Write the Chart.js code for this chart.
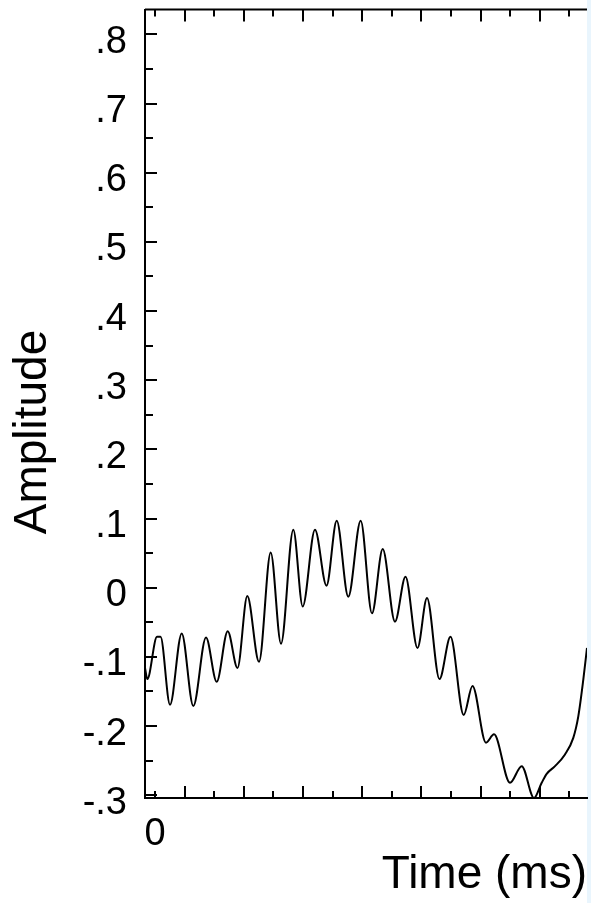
<!DOCTYPE html>
<html>
  <head>
    <meta charset="utf-8">
    <title>Amplitude vs Time</title>
    <script src="https://cdn.jsdelivr.net/npm/chart.js@4.4.1/dist/chart.umd.min.js"></script>
    <style>
      body {
        margin: 0;
        background-color: white;
      }
    </style>
  </head>
  <body>
    <canvas id="canvas" width="591" height="903"></canvas>

    <script>
      // time axis (one unit per tick) and amplitude
      var timeValues = [-0.338, -0.26, 0.068, 0.186, 0.507, 0.902, 1.294, 1.723, 2.084, 2.456,
        2.787, 3.118, 3.514, 3.909, 4.257, 4.672, 4.99, 5.405, 5.794, 6.139,
        6.53, 6.949, 7.331, 7.693, 8.108, 8.463, 8.868, 9.189, 9.611, 9.983,
        10.429, 10.726, 11.182, 11.453, 11.993, 12.389, 12.804, 13.064, 13.233, 13.514,
        13.851, 14.132, 14.301, 14.47, 14.595];
      var ampValues = [-0.116, -0.132, -0.071, -0.071, -0.169, -0.066, -0.171, -0.072, -0.136, -0.063,
        -0.116, -0.012, -0.107, 0.051, -0.081, 0.084, -0.027, 0.084, 0.003, 0.097,
        -0.013, 0.097, -0.037, 0.056, -0.049, 0.016, -0.087, -0.015, -0.132, -0.071,
        -0.184, -0.142, -0.224, -0.212, -0.282, -0.258, -0.304, -0.282, -0.269, -0.258,
        -0.241, -0.217, -0.186, -0.133, -0.087];

      var yTickValues = [-0.3, -0.2, -0.1, 0, 0.1, 0.2, 0.3, 0.4, 0.5, 0.6, 0.7, 0.8];
      var yTickLabels = ['-.3', '-.2', '-.1', '0', '.1', '.2', '.3', '.4', '.5', '.6', '.7', '.8'];
      var xTickValues = [0, 1, 2, 3, 4, 5, 6, 7, 8, 9, 10, 11, 12, 13, 14];
      var xTickLabels = ['0', '', '', '', '', '', '', '', '', '', '', '', '', '', ''];

      var fontName = "'Liberation Sans', Arial, Helvetica, sans-serif";

      var points = [];
      for (var i = 0; i < timeValues.length; i++) {
        points.push({x: timeValues[i], y: ampValues[i]});
      }

      var frame = {
        id: 'frame',
        beforeDraw: function(chart) {
          var c = chart.ctx;
          var a = chart.chartArea;
          c.save();
          c.fillStyle = 'white';
          c.fillRect(0, 0, chart.width, chart.height);
          c.fillStyle = '#e9f5fd';
          c.fillRect(a.right, 0, chart.width - a.right, chart.height);
          c.restore();
        },
        afterDraw: function(chart) {
          var c = chart.ctx;
          var a = chart.chartArea;
          var xs = chart.scales.x;
          var ys = chart.scales.y;
          c.save();
          c.strokeStyle = 'black';
          c.lineWidth = 2;
          c.beginPath();
          c.moveTo(a.left, a.top);
          c.lineTo(a.right, a.top);
          for (var i = 0; i < xTickValues.length; i++) {
            var px = Math.round(xs.getPixelForValue(xTickValues[i]));
            var len = (i % 2) ? 12 : 7;
            c.moveTo(px, a.top);
            c.lineTo(px, a.top + len);
            c.moveTo(px, a.bottom);
            c.lineTo(px, a.bottom - len);
          }
          // major ticks on the labels, minor ticks halfway
          for (var j = 0; j < yTickValues.length; j++) {
            var py = Math.round(ys.getPixelForValue(yTickValues[j]));
            c.moveTo(a.left, py);
            c.lineTo(a.left + 12, py);
            if (j < yTickValues.length - 1) {
              var pm = Math.round(ys.getPixelForValue(yTickValues[j] + 0.05));
              c.moveTo(a.left, pm);
              c.lineTo(a.left + 8, pm);
            }
          }
          var pt = Math.round(ys.getPixelForValue(0.8 + 0.05));
          if (pt > a.top) {
            c.moveTo(a.left, pt);
            c.lineTo(a.left + 8, pt);
          }
          c.stroke();

          c.translate(33, 432);
          c.rotate(-Math.PI / 2);
          c.fillStyle = 'black';
          c.font = '46px ' + fontName;
          c.textAlign = 'center';
          c.textBaseline = 'middle';
          c.fillText('Amplitude', 0, 0);
          c.restore();
        }
      };

      var ctx = document.getElementById('canvas').getContext('2d');
      var myChart = new Chart(ctx, {
        type: 'line',
        data: {
          datasets: [{
            data: points,
            borderColor: 'black',
            borderWidth: 2,
            pointRadius: 0,
            fill: false,
            cubicInterpolationMode: 'monotone'
          }]
        },
        options: {
          responsive: false,
          animation: false,
          devicePixelRatio: 1,
          layout: {
            padding: {top: 9.5, right: 4, left: 0, bottom: 0}
          },
          plugins: {
            legend: {display: false},
            tooltip: {enabled: false}
          },
          scales: {
            x: {
              type: 'linear',
              min: -0.338,
              max: 14.595,
              afterFit: function(s) {
                s.height = 105;
                s.paddingLeft = 0;
                s.paddingRight = 0;
              },
              afterBuildTicks: function(s) {
                s.ticks = xTickValues.map(function(v) { return {value: v}; });
              },
              grid: {display: false, drawTicks: false},
              border: {display: true, color: 'black', width: 2},
              ticks: {
                autoSkip: false,
                maxRotation: 0,
                padding: 14,
                color: 'black',
                font: {family: fontName, size: 38},
                callback: function(value, index) { return xTickLabels[index]; }
              },
              title: {
                display: true,
                text: 'Time (ms)',
                align: 'end',
                color: 'black',
                font: {family: fontName, size: 46},
                padding: {top: 0, bottom: 0}
              }
            },
            y: {
              min: -0.304,
              max: 0.836,
              afterFit: function(s) {
                s.width = 145;
                s.paddingTop = 0;
                s.paddingBottom = 0;
              },
              afterBuildTicks: function(s) {
                s.ticks = yTickValues.map(function(v) { return {value: v}; });
              },
              grid: {display: false, drawTicks: false},
              border: {display: true, color: 'black', width: 2},
              ticks: {
                autoSkip: false,
                padding: 18,
                labelOffset: 8,
                color: 'black',
                font: {family: fontName, size: 38},
                callback: function(value, index) { return yTickLabels[index]; }
              }
            }
          }
        },
        plugins: [frame]
      });
    </script>
  </body>
</html>
